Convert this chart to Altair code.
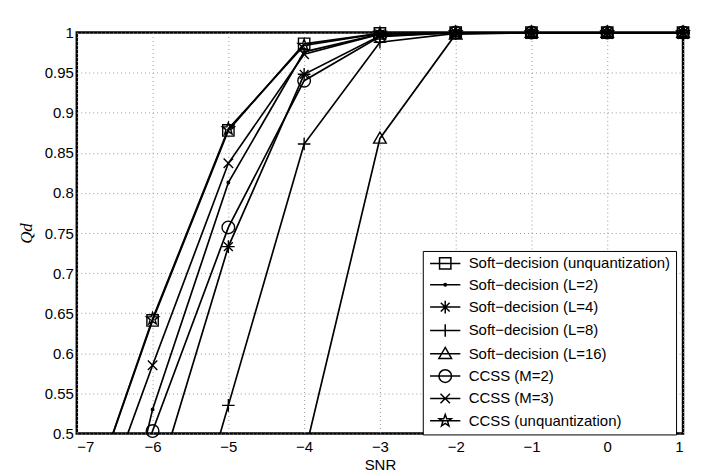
import math
import altair as alt
import pandas as pd

snr = [-7, -6, -5, -4, -3, -2, -1, 0, 1]

series_names = [
    "Soft−decision (unquantization)",
    "Soft−decision (L=2)",
    "Soft−decision (L=4)",
    "Soft−decision (L=8)",
    "Soft−decision (L=16)",
    "CCSS (M=2)",
    "CCSS (M=3)",
    "CCSS (unquantization)",
]

soft_unq = [0.370, 0.641, 0.878, 0.986, 0.999, 1.000, 1.000, 1.000, 1.000]
soft_l2 = [0.130, 0.530, 0.813, 0.976, 0.998, 1.000, 1.000, 1.000, 1.000]
soft_l4 = [0.200, 0.420, 0.733, 0.948, 0.996, 1.000, 1.000, 1.000, 1.000]
soft_l8 = [0.050, 0.210, 0.535, 0.861, 0.988, 0.999, 1.000, 1.000, 1.000]
soft_l16 = [0.020, 0.080, 0.200, 0.472, 0.868, 0.998, 1.000, 1.000, 1.000]
ccss_m2 = [0.250, 0.503, 0.757, 0.940, 0.995, 1.000, 1.000, 1.000, 1.000]
ccss_m3 = [0.325, 0.585, 0.837, 0.973, 0.998, 1.000, 1.000, 1.000, 1.000]
ccss_unq = [0.370, 0.643, 0.880, 0.984, 0.999, 1.000, 1.000, 1.000, 1.000]

all_vals = [soft_unq, soft_l2, soft_l4, soft_l8, soft_l16, ccss_m2, ccss_m3, ccss_unq]

rows = []
for name, vals in zip(series_names, all_vals):
    for x, y in zip(snr, vals):
        rows.append({"snr": x, "qd": y, "series": name})
df = pd.DataFrame(rows)

# marker shapes (unit box paths)
def star_path(r_out=1.0, r_in=0.4):
    pts = []
    for i in range(10):
        r = r_out if i % 2 == 0 else r_in
        a = -math.pi / 2 + i * math.pi / 5
        pts.append((r * math.cos(a), r * math.sin(a)))
    return "M" + "L".join(f"{px:.3f},{py:.3f}" for px, py in pts) + "Z"

square = "M-0.9,-0.9L0.9,-0.9L0.9,0.9L-0.9,0.9Z"
dot = "M0.2,0A0.2,0.2,0,1,1,-0.2,0A0.2,0.2,0,1,1,0.2,0Z"
aster = "M-1,0L1,0M0,-1L0,1M-0.7,-0.7L0.7,0.7M-0.7,0.7L0.7,-0.7"
plus = "M-1,0L1,0M0,-1L0,1"
tri = "M0,-1L1,0.75L-1,0.75Z"
circ = "M1,0A1,1,0,1,1,-1,0A1,1,0,1,1,1,0Z"
xmark = "M-0.75,-0.75L0.75,0.75M-0.75,0.75L0.75,-0.75"
star = star_path()

shapes = [square, dot, aster, plus, tri, circ, xmark, star]
seg = "M-2.4,0L2.4,0"
legend_shapes = [seg + s for s in shapes]

x_enc = alt.X("snr:Q", scale=alt.Scale(domain=[-7, 1], nice=False),
              axis=alt.Axis(values=list(range(-7, 2)), title="SNR",
                            grid=True, ticks=False, tickSize=0, labelPadding=6,
                            titlePadding=3))
y_enc = alt.Y("qd:Q", scale=alt.Scale(domain=[0.5, 1], nice=False, zero=False),
              axis=alt.Axis(values=[0.5 + 0.05 * i for i in range(11)], format=".2~f",
                            title="Qd", grid=True, ticks=False, tickSize=0,
                            labelPadding=3.5, titlePadding=9,
                            titleFont="Liberation Serif", titleFontStyle="italic",
                            titleFontWeight="normal", titleFontSize=17))

lines = alt.Chart(df).mark_line(clip=True, color="black", strokeWidth=1.7).encode(
    x=x_enc, y=y_enc, detail="series:N", order="snr:Q"
)

points = alt.Chart(df).transform_filter("datum.qd >= 0.5").mark_point(
    filled=False, color="black", strokeWidth=1.4, size=160, opacity=1
).encode(
    x=x_enc, y=y_enc,
    shape=alt.Shape("series:N", scale=alt.Scale(domain=series_names, range=shapes), legend=None),
)

legend_layer = alt.Chart(df).mark_point(
    filled=False, color="black", opacity=0, size=160
).encode(
    x=x_enc, y=y_enc,
    shape=alt.Shape(
        "series:N",
        scale=alt.Scale(domain=series_names, range=legend_shapes),
        legend=alt.Legend(
            title=None, orient="none", legendX=347, legendY=219,
            fillColor="white", strokeColor="black",
            padding=5, symbolOffset=10, labelOffset=16, rowPadding=4.4,
            symbolSize=160, symbolStrokeWidth=1.5, symbolStrokeColor="black",
            symbolFillColor="transparent", symbolOpacity=1,
            labelFont="Liberation Sans", labelFontSize=15, labelColor="black",
            labelLimit=400,
        ),
    ),
)

chart = alt.layer(lines, points, legend_layer).resolve_scale(shape="independent").properties(
    width=608, height=402,
    autosize=alt.AutoSizeParams(type="none"),
    padding={"left": 69, "top": 24, "right": 10, "bottom": 38},
).configure_view(
    stroke="black", strokeWidth=2.5
).configure_axis(
    domain=False, gridColor="#9a9a9a", gridDash=[1, 3], gridWidth=1,
    labelFont="Liberation Sans", labelFontSize=15, labelColor="black",
    titleFont="Liberation Sans", titleFontSize=15, titleFontWeight="normal",
    titleColor="black",
)

chart.save("out.html", embed_options={"renderer": "svg", "actions": False})
